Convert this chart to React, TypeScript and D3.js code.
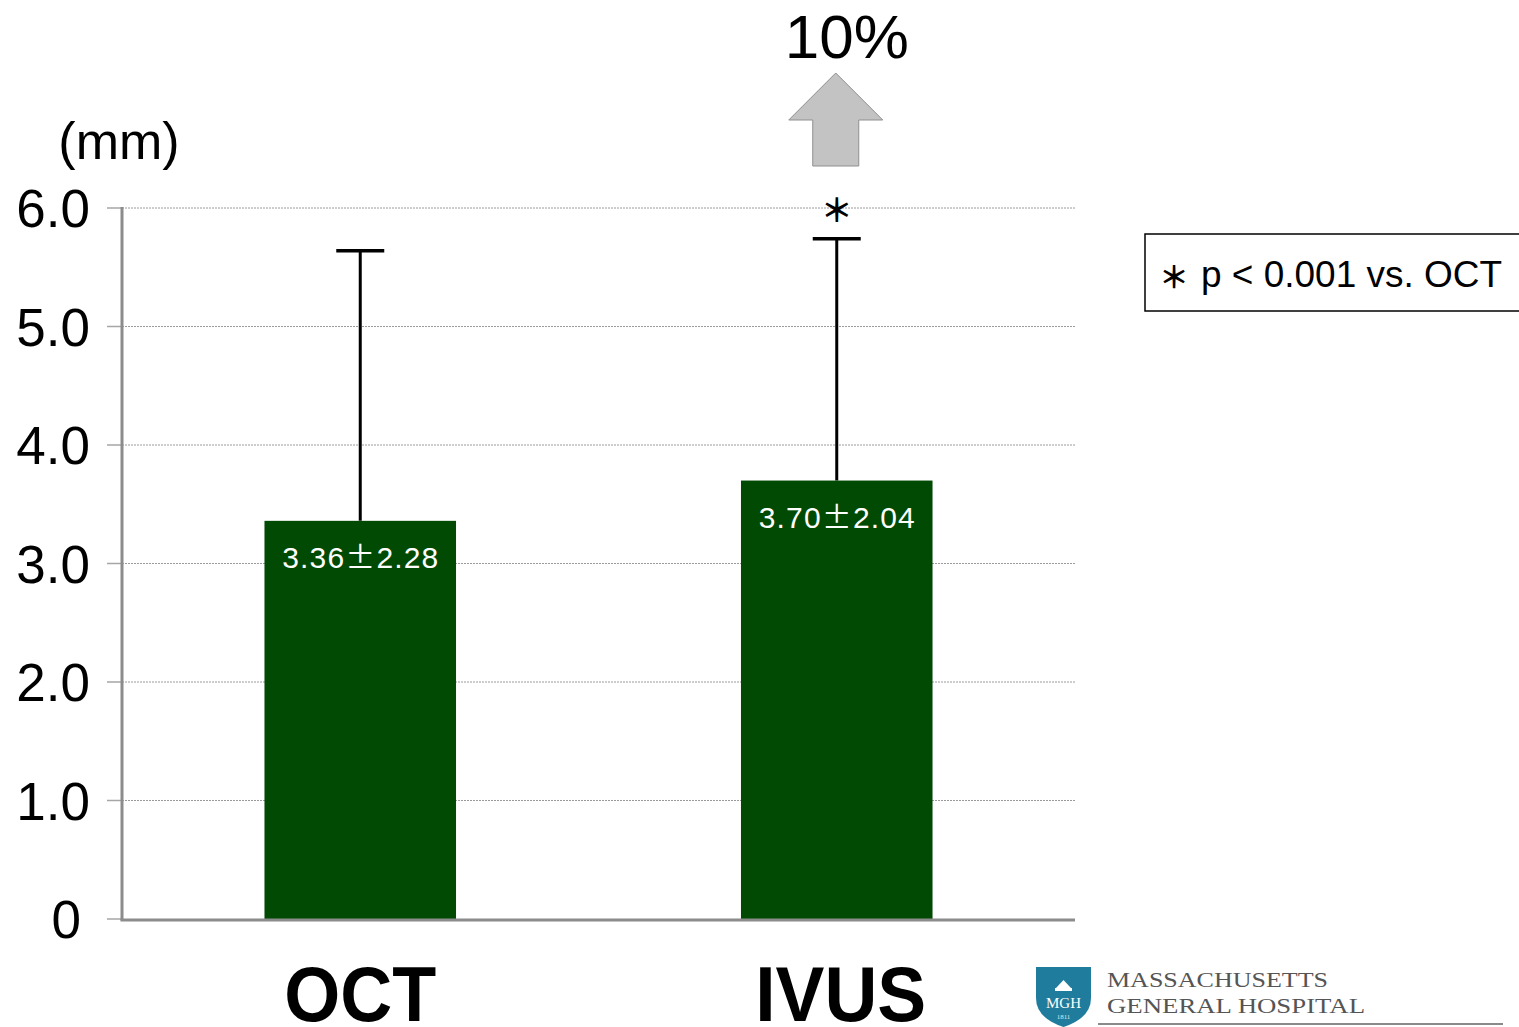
import React from "react";
import * as d3 from "d3";

// Mean lumen measurements (mm) with standard deviations
const categories = ["OCT", "IVUS"];
const means = [3.36, 3.7];
const sds = [2.28, 2.04];
const yTicks = [0, 1, 2, 3, 4, 5, 6];
const yTickLabels = ["0", "1.0", "2.0", "3.0", "4.0", "5.0", "6.0"];
const unitLabel = "(mm)";
const changeLabel = "10%";
const legendMark = "＊";
const legendText = "p < 0.001 vs. OCT";
const significant = [false, true];

const W = 1519;
const H = 1027;
const FONT = "'Liberation Sans', Arial, Helvetica, sans-serif";
const CJK = "'Noto Sans CJK JP', 'Noto Sans CJK SC', sans-serif";

export default function App() {
  const x0 = 122;
  const x1 = 1075;
  const y = d3.scaleLinear().domain([0, 6]).range([919, 208]);
  const x = d3.scaleBand<string>().domain(categories).range([x0, x1]).padding(0);
  const barW = x.bandwidth() * 0.402;
  const capW = 48;
  const catWidths = [152, 171];

  const ivusCx = (x("IVUS") as number) + x.bandwidth() / 2;

  return (
    <svg
      width={W}
      height={H}
      style={{ position: "absolute", left: 0, top: 0, background: "#fff" }}
      fontFamily={FONT}
    >
      {/* gridlines */}
      {yTicks.filter((t) => t > 0).map((t) => (
        <line
          key={"g" + t}
          x1={x0}
          x2={x1}
          y1={y(t)}
          y2={y(t)}
          stroke="#9a9a9a"
          strokeWidth={1}
          strokeDasharray="2,1"
        />
      ))}

      {/* tick marks and labels */}
      {yTicks.map((t, i) => (
        <g key={"t" + t}>
          <line x1={107} x2={x0} y1={y(t)} y2={y(t)} stroke="#a6a6a6" strokeWidth={1.5} />
          <text
            x={t === 0 ? 81 : 90}
            y={y(t) + 19}
            textAnchor="end"
            fontSize={53}
            fill="#000"
          >
            {yTickLabels[i]}
          </text>
        </g>
      ))}

      <text x={119} y={159} textAnchor="middle" fontSize={52}>
        {unitLabel}
      </text>

      {/* bars */}
      {categories.map((c, i) => {
        const cx = (x(c) as number) + x.bandwidth() / 2;
        const top = y(means[i]);
        const errTop = y(means[i] + sds[i]);
        return (
          <g key={c}>
            <line x1={cx} x2={cx} y1={top} y2={errTop} stroke="#000" strokeWidth={3} />
            <line
              x1={cx - capW / 2}
              x2={cx + capW / 2}
              y1={errTop}
              y2={errTop}
              stroke="#000"
              strokeWidth={3.5}
            />
            <rect x={cx - barW / 2} y={top} width={barW} height={y(0) - top} fill="#014a03" />
            <text
              x={cx}
              y={top + 47}
              textAnchor="middle"
              fontSize={30}
              fill="#fff"
              textLength={156}
              lengthAdjust="spacing"
            >
              {means[i].toFixed(2)}
              <tspan fontFamily={CJK}>±</tspan>
              {sds[i].toFixed(2)}
            </text>
            {significant[i] && (
              <text
                x={cx}
                y={errTop - 31}
                textAnchor="middle"
                dominantBaseline="central"
                fontSize={32}
                fontWeight="bold"
                fontFamily={CJK}
              >
                ＊
              </text>
            )}
            <text
              x={cx + (i === 1 ? 4 : 0)}
              y={1021}
              textAnchor="middle"
              fontSize={78}
              fontWeight="bold"
              textLength={catWidths[i]}
              lengthAdjust="spacingAndGlyphs"
            >
              {c}
            </text>
          </g>
        );
      })}

      {/* axes */}
      <line x1={x0} x2={x0} y1={y(6) - 1} y2={y(0) + 1.5} stroke="#8c8c8c" strokeWidth={3} />
      <line x1={x0 - 1.5} x2={x1} y1={y(0) + 1} y2={y(0) + 1} stroke="#8c8c8c" strokeWidth={3} />

      {/* change indicator */}
      <text x={ivusCx + 10} y={58} textAnchor="middle" fontSize={62}>
        {changeLabel}
      </text>
      <path
        d={`M${ivusCx - 1},73 L${ivusCx + 46},120 L${ivusCx + 22},120 L${ivusCx + 22},166 L${ivusCx - 24},166 L${ivusCx - 24},120 L${ivusCx - 48},120 Z`}
        fill="#c3c3c3"
        stroke="#8f8f8f"
        strokeWidth={1}
      />

      {/* significance note */}
      <rect x={1145} y={234} width={390} height={77} fill="#fff" stroke="#000" strokeWidth={1.5} />
      <text
        x={1174}
        y={275}
        textAnchor="middle"
        dominantBaseline="central"
        fontSize={30}
        fontWeight="bold"
        fontFamily={CJK}
      >
        {legendMark}
      </text>
      <text x={1201} y={287} fontSize={37} textLength={301} lengthAdjust="spacingAndGlyphs">
        {legendText}
      </text>

      {/* hospital mark */}
      <g>
        <path
          d="M1036,967 L1091,967 L1091,998 Q1091,1018 1063.5,1027 Q1036,1018 1036,998 Z"
          fill="#1f7c9c"
        />
        <path d="M1056,988 L1063.5,980 L1071,988 Z" fill="#fff" />
        <rect x={1055} y={988} width={17} height={3} fill="#fff" />
        <text x={1063.5} y={1003} textAnchor="middle" dominantBaseline="central" fontSize={15} fill="#fff" fontFamily="'Liberation Serif', serif">
          MGH
        </text>
        <text x={1063.5} y={1017} textAnchor="middle" dominantBaseline="central" fontSize={7} fill="#dbeaf0" fontFamily="'Liberation Serif', serif">
          1811
        </text>
        <text x={1107} y={987} fontSize={22} fill="#555" fontFamily="'Liberation Serif', 'Times New Roman', serif" textLength={221} lengthAdjust="spacingAndGlyphs">
          MASSACHUSETTS
        </text>
        <text x={1107} y={1013} fontSize={22} fill="#555" fontFamily="'Liberation Serif', 'Times New Roman', serif" textLength={258} lengthAdjust="spacingAndGlyphs">
          GENERAL HOSPITAL
        </text>
        <line x1={1098} x2={1503} y1={1024} y2={1024} stroke="#8a8a8a" strokeWidth={2} />
      </g>
    </svg>
  );
}
